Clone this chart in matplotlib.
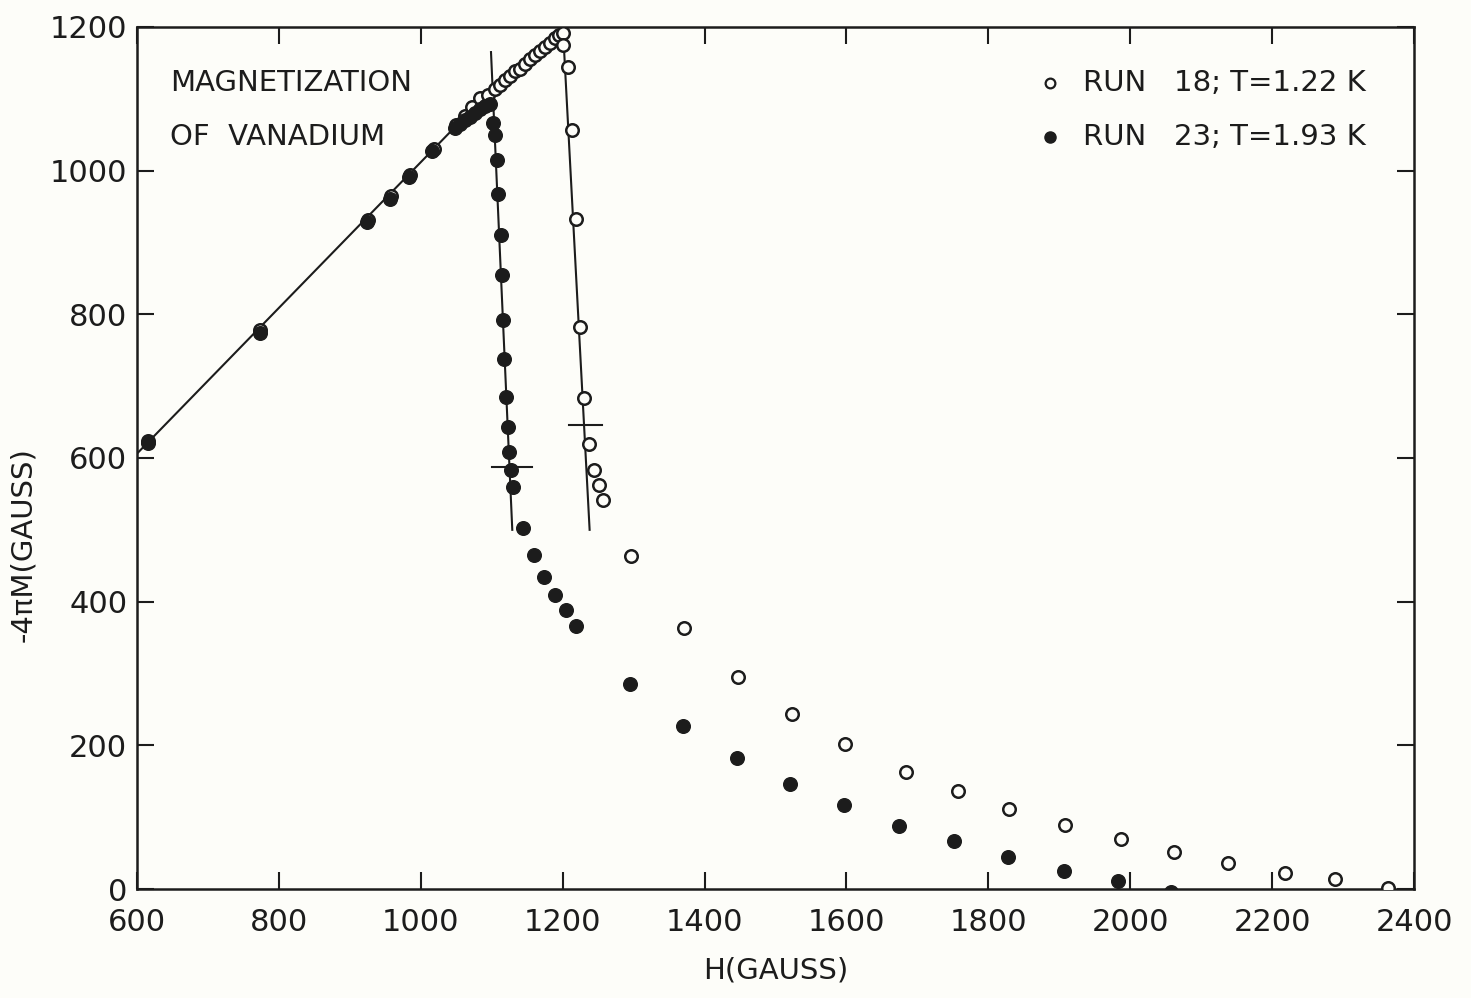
import matplotlib.pyplot as plt

bg = '#fdfdf9'
ink = '#1c1c1c'

# run 23, T = 1.93 K (filled circles)
h_run23 = [615, 773, 924, 957, 983, 1016, 1048, 1055, 1062, 1069, 1076, 1083, 1090, 1098,
           1102, 1105, 1107, 1109, 1113, 1114, 1116, 1117, 1120, 1123, 1124, 1127, 1130,
           1144, 1160, 1174, 1189, 1205, 1219,
           1295, 1370, 1446, 1520, 1597, 1674, 1752, 1828, 1907, 1983, 2058]
m_run23 = [621, 774, 929, 961, 991, 1027, 1060, 1065, 1071, 1075, 1080, 1086, 1090, 1093,
           1066, 1050, 1015, 968, 910, 855, 792, 738, 685, 643, 608, 583, 560,
           503, 465, 434, 409, 388, 366,
           285, 227, 182, 146, 117, 88, 67, 45, 25, 11, -4]

# run 18, T = 1.22 K (open circles)
h_run18 = [616, 774, 925, 958, 985, 1018, 1050, 1062, 1072, 1083, 1095, 1105, 1112, 1119,
           1126, 1133, 1140, 1147, 1154, 1161, 1168, 1175, 1182, 1189, 1195, 1200,
           1201, 1208, 1213, 1219, 1224, 1230, 1237, 1244, 1251, 1257,
           1296, 1371, 1447, 1523, 1598, 1684, 1757, 1829, 1908, 1987, 2062, 2138, 2218, 2289, 2363]
m_run18 = [623, 778, 931, 964, 994, 1030, 1063, 1076, 1088, 1101, 1105, 1113, 1119, 1126,
           1132, 1138, 1142, 1149, 1156, 1161, 1167, 1172, 1178, 1184, 1189, 1192,
           1175, 1144, 1057, 933, 783, 684, 620, 583, 562, 542,
           464, 363, 295, 244, 202, 163, 136, 111, 89, 70, 52, 36, 22, 14, 1]

# hand-drawn guide lines
meissner_h = [600, 1090]
meissner_m = [606, 1103]
steep23_h = [1099, 1129]
steep23_m = [1165, 500]
steep18_h = [1200, 1238]
steep18_m = [1205, 500]
cross23_h = [1100, 1157]
cross23_m = [588, 588]
cross18_h = [1209, 1255]
cross18_m = [646, 646]

plt.rcParams['font.family'] = ['DejaVu Sans']

fig = plt.figure(figsize=(14.71, 9.98), dpi=100, facecolor=bg)
ax = fig.add_axes([0.0931, 0.1092, 0.8682, 0.8638], facecolor=bg)

for hh, mm in [(meissner_h, meissner_m), (steep23_h, steep23_m), (steep18_h, steep18_m),
               (cross23_h, cross23_m), (cross18_h, cross18_m)]:
    ax.plot(hh, mm, color=ink, lw=1.5, zorder=2)

ax.plot(h_run18, m_run18, ls='none', marker='o', ms=9.0, mfc=bg, mec=ink, mew=1.8, zorder=3)
ax.plot(h_run23, m_run23, ls='none', marker='o', ms=9.8, mfc=ink, mec=ink, mew=1, zorder=4)

ax.set_xlim(600, 2400)
ax.set_ylim(0, 1200)
ax.set_xticks(range(600, 2401, 200))
ax.set_yticks(range(0, 1201, 200))
ax.tick_params(direction='in', length=12, width=1.5, colors=ink, labelsize=22,
               top=True, right=True)
ax.tick_params(axis='x', pad=14)
ax.tick_params(axis='y', pad=7)
for s in ax.spines.values():
    s.set_color(ink)
    s.set_linewidth(1.8)

ax.set_xlabel('H(GAUSS)', fontsize=21, color=ink, labelpad=14)
ax.set_ylabel('-4\u03c0M(GAUSS)', fontsize=21, color=ink, labelpad=10)
ax.yaxis.set_label_coords(-0.078, 0.40)

ax.text(0.026, 0.935, 'MAGNETIZATION', transform=ax.transAxes, fontsize=21, color=ink, va='center')
ax.text(0.026, 0.872, 'OF  VANADIUM', transform=ax.transAxes, fontsize=21, color=ink, va='center')

ax.plot([0.715], [0.935], transform=ax.transAxes, marker='o', ms=7, mfc=bg, mec=ink, mew=1.6)
ax.plot([0.715], [0.872], transform=ax.transAxes, marker='o', ms=8, mfc=ink, mec=ink)
ax.text(0.741, 0.935, 'RUN   18; T=1.22 K', transform=ax.transAxes, fontsize=21, color=ink, va='center')
ax.text(0.741, 0.872, 'RUN   23; T=1.93 K', transform=ax.transAxes, fontsize=21, color=ink, va='center')

fig.savefig('out.png', dpi=100, facecolor=bg)
